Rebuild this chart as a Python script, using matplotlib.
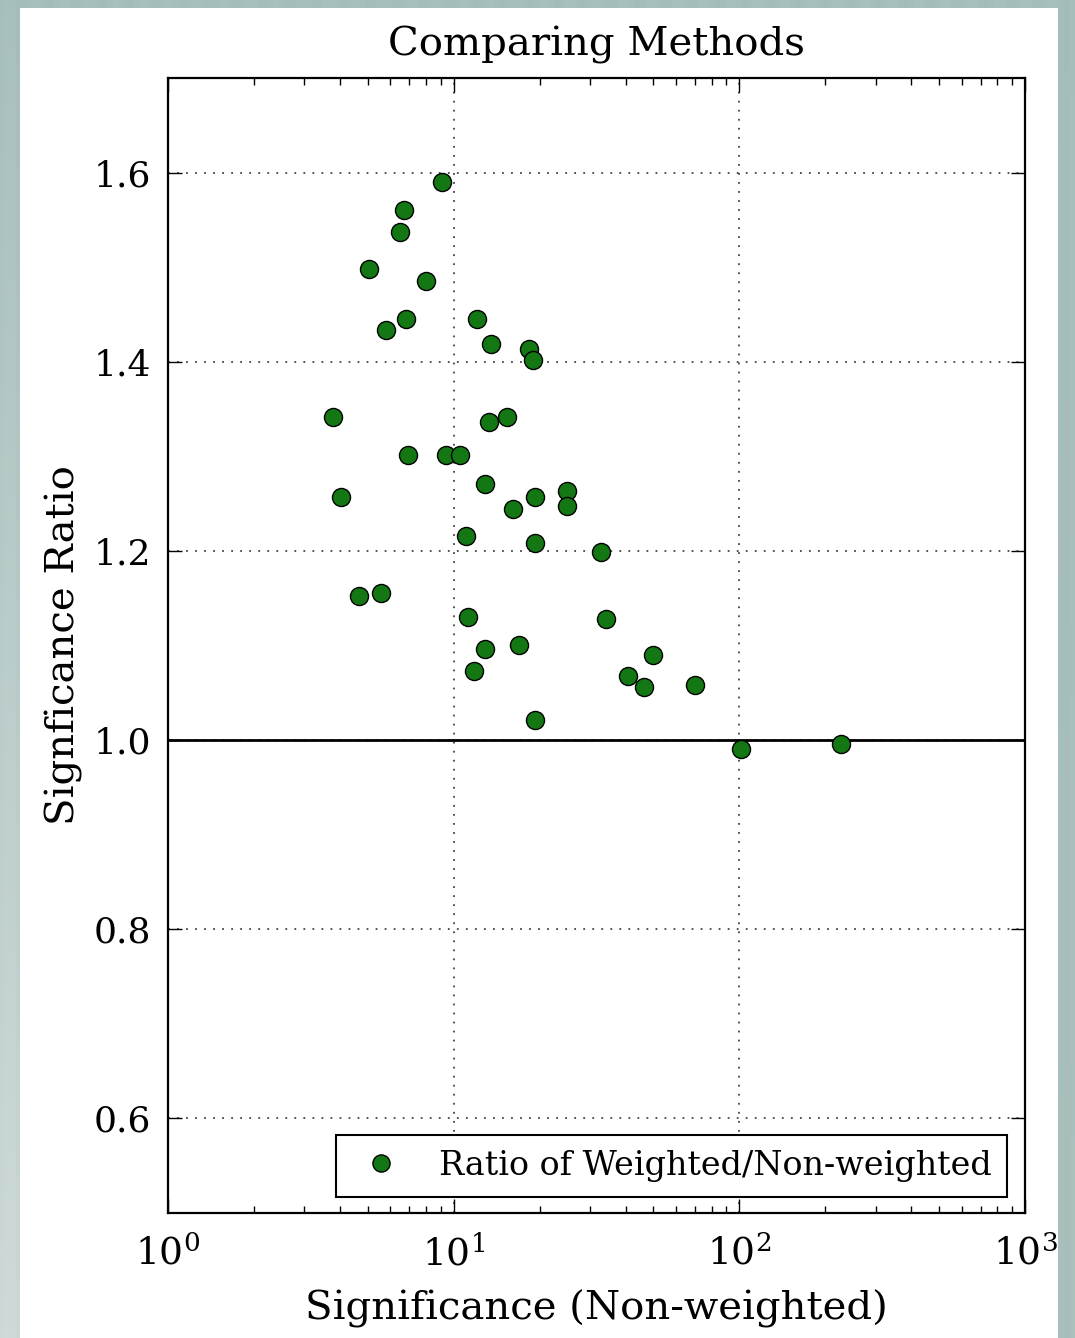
import numpy as np
import matplotlib
matplotlib.use("Agg")
import matplotlib.pyplot as plt
from matplotlib.patches import Rectangle
from matplotlib.ticker import LogLocator, MultipleLocator

plt.rcParams["font.family"] = ["DejaVu Serif"]
plt.rcParams["mathtext.fontset"] = "dejavuserif"

# Significance without weighting (x) and weighted/non-weighted ratio (y)
sig_nonweighted = [
    9.10, 6.70, 6.49, 5.05, 8.00, 5.80, 6.81, 12.07, 13.51, 18.35,
    18.95, 3.78, 13.29, 15.37, 6.92, 9.40, 10.52, 4.03, 12.87, 19.26,
    24.93, 24.93, 16.13, 11.04, 19.26, 32.78, 4.66, 5.57, 11.22, 34.13,
    12.87, 16.93, 11.78, 49.85, 40.74, 46.35, 69.9, 19.26, 101.3, 226.8,
]
sig_ratio = [
    1.590, 1.560, 1.537, 1.498, 1.485, 1.434, 1.445, 1.445, 1.419, 1.413,
    1.402, 1.342, 1.336, 1.342, 1.301, 1.301, 1.301, 1.257, 1.271, 1.257,
    1.263, 1.248, 1.244, 1.216, 1.208, 1.199, 1.152, 1.156, 1.130, 1.128,
    1.096, 1.101, 1.073, 1.090, 1.068, 1.056, 1.058, 1.021, 0.991, 0.996,
]

W, H = 1075, 1338
fig = plt.figure(figsize=(W / 100, H / 100), dpi=100)

# Tinted frame behind the white canvas
bg = fig.add_axes([0, 0, 1, 1], zorder=-10)
yy = np.linspace(0, 1, 200)[:, None]
xx = np.linspace(0, 1, 200)[None, :]
top = np.array([0.650, 0.745, 0.737])
bot_left = np.array([0.805, 0.850, 0.848])
bot_right = np.array([0.665, 0.755, 0.745])
bottom = bot_left[None, None, :] * (1 - xx[..., None]) + bot_right[None, None, :] * xx[..., None]
img = top[None, None, :] * (1 - yy[..., None]) + bottom * yy[..., None]
stripes = 0.008 * np.sin(np.linspace(0, 1, 200) * 2 * np.pi * 40)[None, :, None]
img = np.clip(img + stripes, 0, 1)
bg.imshow(img, extent=[0, 1, 0, 1], aspect="auto", origin="upper")
bg.add_patch(Rectangle((20 / W, 0), (1058 - 20) / W, 1 - 8 / H,
                       facecolor="white", edgecolor="none"))
bg.set_xlim(0, 1)
bg.set_ylim(0, 1)
bg.axis("off")

ax = fig.add_axes([168 / W, 1 - 1213 / H, (1025 - 168) / W, (1213 - 78) / H])
ax.set_xscale("log")
ax.set_xlim(1, 1000)
ax.set_ylim(0.5, 1.7)

ax.axhline(1.0, color="black", lw=2, zorder=2)
ax.plot(sig_nonweighted, sig_ratio, "o", color="#137813", mec="black", mew=1,
        ms=13, label="Ratio of Weighted/Non-weighted", zorder=3)

ax.yaxis.set_major_locator(MultipleLocator(0.2))
ax.xaxis.set_major_locator(LogLocator(base=10, numticks=10))
ax.xaxis.set_minor_locator(LogLocator(base=10, subs=np.arange(2, 10), numticks=10))
ax.grid(True, which="major", linestyle=(0, (1, 4)), color="#444444", lw=1.3)
ax.tick_params(which="both", direction="in", top=True, right=True, labelsize=26,
               width=1)
ax.tick_params(axis="x", pad=16, labelsize=27)
ax.tick_params(axis="y", pad=12)
ax.tick_params(which="major", length=10)
ax.tick_params(which="minor", length=5)
for s in ax.spines.values():
    s.set_linewidth(1.6)

ax.set_title("Comparing Methods", fontsize=29, pad=16)
ax.set_xlabel("Significance (Non-weighted)", fontsize=29, labelpad=12)
ax.set_ylabel("Signficance Ratio", fontsize=29, labelpad=8)

leg = ax.legend(loc="lower right", bbox_to_anchor=(0.979, 0.014), borderaxespad=0,
                numpoints=1, fontsize=24, fancybox=False, framealpha=1,
                edgecolor="black", markerscale=0.95, handletextpad=0.85,
                handlelength=1.8, borderpad=0.45)
leg.get_frame().set_linewidth(1.5)

fig.savefig("out.png", dpi=100)
